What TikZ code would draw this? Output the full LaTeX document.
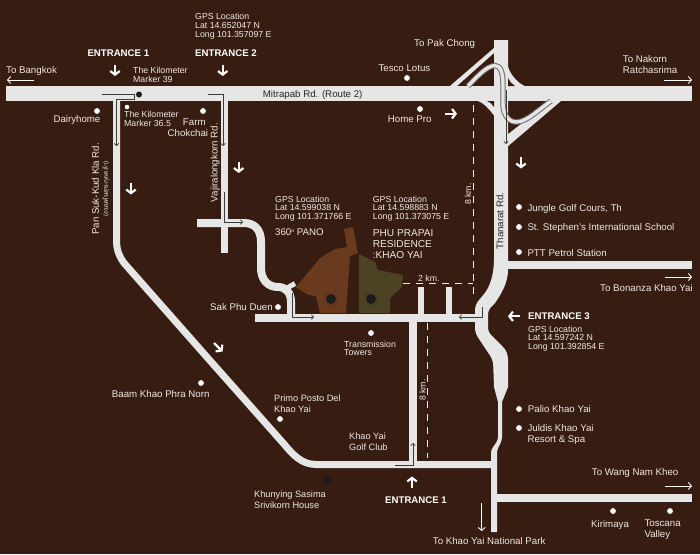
\documentclass[tikz,border=0pt]{standalone}
\usepackage{fontspec}
\setmainfont{Liberation Sans}
\newfontfamily\thaifont[Script=Thai]{Loma}
\usetikzlibrary{arrows.meta}
\definecolor{bgbrown}{HTML}{371C11}
\definecolor{roadc}{HTML}{E6E6E6}
\definecolor{plotA}{HTML}{693A1E}
\definecolor{plotB}{HTML}{4C4224}
\definecolor{txtc}{HTML}{EDE9E6}
\definecolor{dotdark}{HTML}{1C1A1C}
\definecolor{routec}{HTML}{3A3A38}
\tikzset{
 road/.style={draw=roadc,line width=#1,line join=round},
 road/.default=7pt,
 lbl/.style={text=txtc,font=\fontsize{9.7}{11}\selectfont,align=left,inner sep=0pt,anchor=north west},
 gps/.style={text=txtc,font=\fontsize{8.75}{8.7}\selectfont,align=left,inner sep=0pt,anchor=north west},
 ent/.style={text=white,font=\fontsize{9.65}{11}\selectfont\bfseries,inner sep=0pt,anchor=north west},
 rotl/.style={text=txtc,font=\fontsize{9.7}{11}\selectfont,inner sep=0pt,rotate=90},
 poi/.style={circle,fill=white,inner sep=0pt,minimum size=5.8pt},
 thinarrow/.style={white,line width=.9pt,-{Straight Barb[length=3pt,width=7pt]}},
 bigarrow/.style={white,line width=2.2pt,-{Straight Barb[length=3.6pt,width=9.5pt]}},
 routeline/.style={draw=routec,line width=.75pt,-{Straight Barb[length=2pt,width=4.5pt]}},
 dsh/.style={draw=txtc,line width=.8pt,dash pattern=on 7pt off 6pt},
 darkdot/.style={circle,fill=dotdark,inner sep=0pt,minimum size=#1},
}
\begin{document}
\begin{tikzpicture}[x=1pt,y=-1pt]
\fill[bgbrown] (0,0) rectangle (700,554);
\useasboundingbox (0,0) rectangle (700,554);
% plots
\fill[plotA] (344,229) -- (353,227) -- (358,253) -- (350,256) -- (346,313) -- (320,313) -- (316,296) -- (308,295) -- (296,287) -- (320,258) -- (335,249) -- (347,247) -- cycle;
\fill[plotB] (359,254) -- (375,262) -- (378,270) -- (403,275) -- (402,287) -- (390,298) -- (390,313) -- (359,313) -- cycle;
% main roads
\fill[roadc] (6,86) rectangle (692,101);
% Thanarat
\fill[roadc] (494,40) -- (494,258) .. controls (494,277) and (489,288) .. (484,294) [rounded corners=5pt] -- (475,305) -- (475,333) -- (493,360) [sharp corners] -- (494,387) -- (498,402) [rounded corners=3pt] -- (498,440) -- (491,450) [sharp corners] -- (491,532) -- (497,532) [rounded corners=3pt] -- (497,450) -- (502,440) [sharp corners] -- (502,402) -- (508,387) -- (508,360) .. controls (508,354) and (506,350) .. (503,347) [rounded corners=4pt] -- (488,332) -- (488,310) [sharp corners] -- (495,303) .. controls (502,293) and (508,282) .. (508,270) -- (508,40) -- cycle;
% side roads right
\fill[roadc] (506,261) rectangle (692,269);
\fill[roadc] (495,494) rectangle (692,502);
% interchange ramps
\fill[roadc] (450,86) -- (494,48) -- (494,53) -- (457,86) -- cycle;
\fill[roadc] (507,135) -- (550,101) -- (561,101) -- (507,147) -- cycle;
\fill[roadc] (507,63) .. controls (509,74) and (518,84) .. (527,87) -- (507,87) -- cycle;
\fill[bgbrown] (508,78) .. controls (510,82) and (512,84) .. (515,86) -- (508,86) -- cycle;
\fill[roadc] (474,100) .. controls (483,101) and (490,110) .. (495,117) -- (495,100) -- cycle;
\fill[bgbrown] (487,101) -- (494,101) -- (494,107) .. controls (492,104) and (490,102) .. (487,101) -- cycle;
% flyover
\draw[draw=gray!85!black,line width=5.4pt,line join=round] (468,86) .. controls (476,78) and (486,66) .. (495,65.5) .. controls (501,65.5) and (503,74) .. (503,84) -- (503,104) .. controls (503,116) and (510,122.5) .. (517,122) .. controls (528,121) and (538,110) .. (551,101);
\draw[draw=roadc,line width=3.4pt,line join=round] (468,86) .. controls (476,78) and (486,66) .. (495,65.5) .. controls (501,65.5) and (503,74) .. (503,84) -- (503,104) .. controls (503,116) and (510,122.5) .. (517,122) .. controls (528,121) and (538,110) .. (551,101);
% Pan Suk-Kud Kla + bottom
\draw[road=7pt] (116.5,95) -- (116.5,240) .. controls (116.5,250) and (119,256) .. (124,263) -- (209.5,360) -- (284,444) .. controls (293,455) and (302,464.5) .. (316,464.5) -- (494,464.5);
% Vajiralongkorn
\draw[road=7pt] (224,95) -- (224,253);
\draw[road=8pt] (197,223) -- (244,223) .. controls (255,223) and (261,230) .. (261,242) -- (261,268) .. controls (261,280) and (268,287) .. (278,287) .. controls (286,287) and (291,293) .. (291,302) -- (291,318);
\draw[road=5pt] (287,288) -- (295,283.5);
% cross road
\fill[roadc] (255,314) rectangle (480,322);
\draw[road=6pt] (421,287) -- (421,318);
\draw[road=6pt] (449,287) -- (449,318);
\draw[road=7.5pt] (413,318) -- (413,464.5);
% route lines
\draw[routeline] (102,94) -- (134,94) -- (134,99) -- (116.5,99) -- (116.5,146);
\draw[routeline] (208,94) -- (223,94) -- (223,146);
\draw[routeline] (224,192) -- (224,222) -- (243,222);
\draw[routeline] (292,293) -- (292,317) -- (314,317);
\draw[routeline] (482,307) -- (482,317) -- (459,317);
\draw[routeline] (395,465) -- (413,465) -- (413,443);
\draw[routeline] (506,90) -- (506,144);
% dashes
\draw[dsh] (473,105) -- (473,297);
\draw[dsh] (403,283.7) -- (473,283.7);
\draw[dsh] (427,323) -- (427,458);
% dark dots
\node[darkdot=10pt] (d1) at (331,299) {};
\node[darkdot=10pt] (d2) at (371,299) {};
\draw[dotdark,line width=.4pt,densely dotted] (d1) circle (6.5pt);
\draw[dotdark,line width=.4pt,densely dotted] (d2) circle (6.5pt);
\node[darkdot=8pt] (d3) at (327.7,480.7) {};
\node[darkdot=6pt] (d4) at (139,94.5) {};
% POIs
\foreach \n/\x/\y in {dairy/97/111,farmp/203/111,tesco/407/78,home/420/109,jungle/519/207,steph/519/227,ptt/519/252,sak/278/307,trans/371/333,baam/201/383,primo/280/419,palio/519/409,juldis/519/428,kiri/613/511,tosc/670/511}
  \node[poi] (\n) at (\x,\y) {};
\node[poi,minimum size=4.6pt] (km) at (127,107) {};
% arrows
\draw[thinarrow] (34,80) -- (7,80);
\draw[thinarrow] (664,80) -- (692,80);
\draw[thinarrow] (665,277) -- (692,277);
\draw[thinarrow] (665,486) -- (692,486);
\draw[thinarrow] (481.7,503) -- (481.7,531);
\draw[bigarrow] (115,64.5) -- (115,76);
\draw[bigarrow] (222.7,64.5) -- (222.7,76);
\draw[bigarrow] (238.7,161.5) -- (238.7,173);
\draw[bigarrow] (131,183) -- (131,194.5);
\draw[bigarrow] (445,113.7) -- (457,113.7);
\draw[bigarrow] (521,157) -- (521,168.5);
\draw[bigarrow] (520,316.3) -- (508,316.3);
\draw[bigarrow] (214,343) -- (222.5,351.5);
\draw[bigarrow] (412,488) -- (412,476.5);
% labels
\node[lbl] (tobkk) at (6,66.5) {To Bangkok};
\node[ent] (en1a) at (87.3,49.7) {ENTRANCE 1};
\node[ent] (en2) at (195,49.7) {ENTRANCE 2};
\node[gps] (g0) at (195,13.3) {GPS Location\\Lat 14.652047 N\\Long 101.357097 E};
\node[gps] (km39) at (133,67.3) {The Kilometer\\Marker 39};
\node[lbl,text=black!85] (mit) at (262.7,90) {Mitrapab Rd. (Route 2)};
\node[lbl] (ldairy) at (53.3,115.3) {Dairyhome};
\node[gps] (km36) at (124,111) {The Kilometer\\Marker 36.5};
\node[lbl,align=right,anchor=north east,font=\fontsize{9.7}{10.7}\selectfont] (lfarm) at (208.3,119) {Farm\hspace*{2.5pt}\\Chokchai};
\node[rotl] (vaj) at (215,162.5) {Vajiralongkorn Rd.};
\node[rotl] (pan) at (95.5,189) {Pan Suk-Kud Kla Rd.};
\node[text=txtc,inner sep=0pt,rotate=90,font=\thaifont\fontsize{6.4}{7}\selectfont] (panth) at (106,189) {(ถนนพันสุข-กุดคล้า)};
\node[lbl] (ltesco) at (378.3,64.3) {Tesco Lotus};
\node[lbl] (lpak) at (414,39.3) {To Pak Chong};
\node[lbl,font=\fontsize{9.7}{10.7}\selectfont] (lnak) at (622.7,55.7) {To Nakorn\\Ratchasrima};
\node[lbl] (lhome) at (387.7,116) {Home Pro};
\node[lbl] (ljungle) at (527.3,204) {Jungle Golf Cours, Th};
\node[lbl] (lsteph) at (527.3,223.3) {St. Stephen's International School};
\node[lbl] (lptt) at (527.3,249) {PTT Petrol Station};
\node[rotl,font=\fontsize{8.75}{10}\selectfont] (k8a) at (468,194) {8 km.};
\node[gps] (g1) at (275,195.7) {GPS Location\\Lat 14.599038 N\\Long 101.371766 E};
\node[gps] (g2) at (372.7,195.7) {GPS Location\\Lat 14.598883 N\\Long 101.373075 E};
\node[lbl] (pano) at (275,229) {360\raisebox{3.5pt}{\fontsize{5}{5}\selectfont o} PANO};
\node[lbl,font=\fontsize{10.1}{11}\selectfont] (phu) at (372.7,229) {PHU PRAPAI\\RESIDENCE\\:KHAO YAI};
\node[gps] (k2) at (418,275) {2 km.};
\node[rotl,text=black!85] (than) at (500,221) {Thanarat Rd.};
\node[lbl] (lsak) at (210,303.7) {Sak Phu Duen};
\node[gps] (ltrans) at (344,340.7) {Transmission\\Towers};
\node[ent] (en3) at (528,312.7) {ENTRANCE 3};
\node[gps] (g3) at (528,325.7) {GPS Location\\Lat 14.597242 N\\Long 101.392854 E};
\node[lbl] (lbon) at (600,284.3) {To Bonanza Khao Yai};
\node[lbl] (lbaam) at (111.7,390) {Baam Khao Phra Norn};
\node[lbl,font=\fontsize{9.2}{11}\selectfont] (lprimo) at (274,394.7) {Primo Posto Del\\Khao Yai};
\node[lbl,font=\fontsize{9.2}{11}\selectfont] (lgolf) at (349,433) {Khao Yai\\Golf Club};
\node[lbl,font=\fontsize{9.2}{11}\selectfont] (lkhun) at (254,490.7) {Khunying Sasima\\Srivikorn House};
\node[ent] (en1b) at (385,496.7) {ENTRANCE 1};
\node[rotl,font=\fontsize{8.75}{10}\selectfont] (k8b) at (422.5,390) {8 km.};
\node[lbl] (lpalio) at (527.7,405) {Palio Khao Yai};
\node[lbl] (ljuldis) at (527.3,424) {Juldis Khao Yai\\Resort \& Spa};
\node[lbl] (lwang) at (591.7,468) {To Wang Nam Kheo};
\node[lbl] (lkiri) at (591,520) {Kirimaya};
\node[lbl] (ltosc) at (644.3,520) {Toscana\\Valley};
\node[lbl] (lpark) at (432.7,537) {To Khao Yai National Park};
\end{tikzpicture}
\end{document}
